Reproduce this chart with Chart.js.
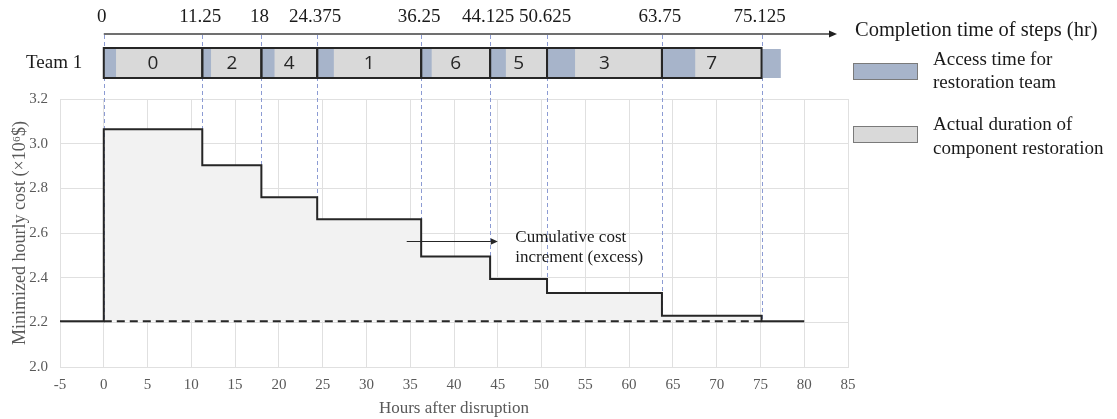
<!DOCTYPE html>
<html>
<head>
<meta charset="utf-8">
<script src="https://cdn.jsdelivr.net/npm/chart.js@4.4.0/dist/chart.umd.min.js"></script>
<style>
  html, body { margin: 0; padding: 0; background: #ffffff; }
  #wrap { width: 1117px; height: 419px; }
</style>
</head>
<body>
<div id="wrap"><canvas id="c" width="1117" height="419"></canvas></div>
<script>
// ---- data ----
const stepTimes = [0, 11.25, 18, 24.375, 36.25, 44.125, 50.625, 63.75, 75.125];
const stepCosts = [3.065, 2.903, 2.760, 2.662, 2.495, 2.394, 2.331, 2.229, 2.205];
const baselineCost = 2.205;
const startHour = -5;
const endHour = 80;
const stepLabels = ['0', '11.25', '18', '24.375', '36.25', '44.125', '50.625', '63.75', '75.125'];
const components = ['0', '2', '4', '1', '6', '5', '3', '7'];
const accessTimes = [1.4, 1.0, 1.5, 1.9, 1.2, 1.8, 3.2, 3.8];
const trailingAccess = 2.2;
const xTicks = { min: -5, max: 85, step: 5 };
const yTicks = { min: 2.0, max: 3.2, step: 0.2 };

// ---- build series from data ----
const stepPoints = [{ x: startHour, y: baselineCost }, { x: stepTimes[0], y: baselineCost }];
for (let i = 0; i < stepTimes.length; i++) {
  const next = i + 1 < stepTimes.length ? stepTimes[i + 1] : endHour;
  stepPoints.push({ x: stepTimes[i], y: stepCosts[i] });
  stepPoints.push({ x: next, y: stepCosts[i] });
}
const basePoints = [{ x: stepTimes[0], y: baselineCost }, { x: stepTimes[stepTimes.length - 1], y: baselineCost }];

const SERIF = '"Liberation Serif", "Times New Roman", serif';
const SANS = '"Open Sans", "Liberation Sans", sans-serif';
const ACCESS_COLOR = '#a7b4ca';
const WORK_COLOR = '#d9d9d9';
const INK = '#262626';

function arrow(ctx, x1, y, x2, head) {
  ctx.beginPath();
  ctx.moveTo(x1, y);
  ctx.lineTo(x2 - head, y);
  ctx.stroke();
  ctx.beginPath();
  ctx.moveTo(x2, y);
  ctx.lineTo(x2 - head, y - head * 0.45);
  ctx.lineTo(x2 - head, y + head * 0.45);
  ctx.closePath();
  ctx.fill();
}

const overlay = {
  id: 'overlay',
  beforeDatasetsDraw(chart) {
    const { ctx, scales: { x, y } } = chart;
    ctx.save();
    ctx.strokeStyle = '#8c9bd3';
    ctx.lineWidth = 1;
    ctx.setLineDash([4, 3]);
    for (let i = 0; i < stepTimes.length; i++) {
      const prev = i === 0 ? baselineCost : stepCosts[i - 1];
      const low = Math.min(prev, stepCosts[i]);
      const px = Math.round(x.getPixelForValue(stepTimes[i])) + 0.5;
      ctx.beginPath();
      ctx.moveTo(px, 35);
      ctx.lineTo(px, y.getPixelForValue(low));
      ctx.stroke();
    }
    ctx.restore();
  },
  afterDraw(chart) {
    const { ctx, scales: { x, y }, chartArea } = chart;
    ctx.save();
    // timeline axis with arrow
    ctx.strokeStyle = '#404040';
    ctx.fillStyle = '#202020';
    ctx.lineWidth = 1.3;
    arrow(ctx, x.getPixelForValue(stepTimes[0]), 34, chartArea.right - 11, 8);

    // step completion labels
    ctx.fillStyle = '#1a1a1a';
    ctx.font = '19px ' + SERIF;
    ctx.textAlign = 'center';
    ctx.textBaseline = 'middle';
    stepLabels.forEach((t, i) => {
      ctx.fillText(t, x.getPixelForValue(stepTimes[i]) - 2, 17);
    });

    // team bar
    const top = 48, bot = 78;
    const last = stepTimes[stepTimes.length - 1];
    ctx.fillStyle = ACCESS_COLOR;
    ctx.fillRect(x.getPixelForValue(last), top + 1, x.getPixelForValue(last + trailingAccess) - x.getPixelForValue(last), bot - top - 1);
    for (let i = 0; i < components.length; i++) {
      const x0 = x.getPixelForValue(stepTimes[i]);
      const x1 = x.getPixelForValue(stepTimes[i + 1]);
      const xa = x.getPixelForValue(stepTimes[i] + accessTimes[i]);
      ctx.fillStyle = WORK_COLOR;
      ctx.fillRect(x0, top, x1 - x0, bot - top);
      ctx.fillStyle = ACCESS_COLOR;
      ctx.fillRect(x0, top, xa - x0, bot - top);
    }
    ctx.strokeStyle = INK;
    ctx.lineWidth = 2;
    for (let i = 0; i < components.length; i++) {
      const x0 = x.getPixelForValue(stepTimes[i]);
      const x1 = x.getPixelForValue(stepTimes[i + 1]);
      ctx.strokeRect(x0, top, x1 - x0, bot - top);
    }
    ctx.fillStyle = INK;
    ctx.font = '19px ' + SANS;
    for (let i = 0; i < components.length; i++) {
      const x0 = x.getPixelForValue(stepTimes[i]);
      const x1 = x.getPixelForValue(stepTimes[i + 1]);
      ctx.fillText(components[i], (x0 + x1) / 2, (top + bot) / 2 + 1);
    }
    // Team label
    ctx.fillStyle = '#1a1a1a';
    ctx.font = '19px ' + SERIF;
    ctx.textAlign = 'left';
    ctx.fillText('Team 1', 26, 63);

    // legend
    ctx.font = '20.5px ' + SERIF;
    ctx.fillText('Completion time of steps (hr)', 855, 31);
    ctx.font = '19px ' + SERIF;
    ctx.lineWidth = 1;
    ctx.strokeStyle = '#7a7a7a';
    ctx.fillStyle = ACCESS_COLOR;
    ctx.fillRect(853, 63, 64, 16);
    ctx.strokeRect(853.5, 63.5, 64, 16);
    ctx.fillStyle = WORK_COLOR;
    ctx.fillRect(853, 126, 64, 16);
    ctx.strokeRect(853.5, 126.5, 64, 16);
    ctx.fillStyle = '#1a1a1a';
    ctx.fillText('Access time for', 933, 60);
    ctx.fillText('restoration team', 933, 83);
    ctx.fillText('Actual duration of', 933, 125);
    ctx.fillText('component restoration', 933, 149);

    // annotation
    ctx.strokeStyle = INK;
    ctx.fillStyle = INK;
    ctx.lineWidth = 1;
    arrow(ctx, x.getPixelForValue(34.6), Math.round(y.getPixelForValue(2.562)) + 0.5, x.getPixelForValue(45.0), 7);
    ctx.fillStyle = '#1a1a1a';
    ctx.font = '17px ' + SERIF;
    ctx.fillText('Cumulative cost', x.getPixelForValue(47), y.getPixelForValue(2.578));
    ctx.fillText('increment (excess)', x.getPixelForValue(47), y.getPixelForValue(2.488));
    ctx.restore();
  }
};

new Chart(document.getElementById('c'), {
  type: 'line',
  data: {
    datasets: [
      {
        data: stepPoints,
        borderColor: INK,
        borderWidth: 2,
        pointRadius: 0,
        tension: 0,
        fill: { value: baselineCost },
        backgroundColor: '#f2f2f2'
      },
      {
        data: basePoints,
        borderColor: INK,
        borderWidth: 2,
        borderDash: [8, 5],
        pointRadius: 0,
        fill: false
      }
    ]
  },
  options: {
    responsive: false,
    animation: false,
    layout: { padding: { left: 0, top: 99, right: 269, bottom: 0 } },
    plugins: {
      legend: { display: false },
      tooltip: { enabled: false },
      filler: { drawTime: 'beforeDatasetsDraw' }
    },
    scales: {
      x: {
        type: 'linear',
        min: xTicks.min,
        max: xTicks.max,
        afterFit: s => { s.height = 52; },
        ticks: {
          stepSize: xTicks.step,
          color: '#595959',
          font: { family: SERIF, size: 15 },
          padding: 9,
          maxRotation: 0
        },
        grid: { color: '#e0e0e0', lineWidth: 1, drawTicks: false },
        border: { color: '#e0e0e0' },
        title: {
          display: true,
          text: 'Hours after disruption',
          color: '#595959',
          font: { family: SERIF, size: 17 },
          padding: { top: 0, bottom: 0 }
        }
      },
      y: {
        type: 'linear',
        min: yTicks.min,
        max: yTicks.max,
        afterFit: s => { s.width = 60; },
        ticks: {
          stepSize: yTicks.step,
          color: '#595959',
          font: { family: SERIF, size: 15 },
          padding: 12,
          callback: v => Number(v).toFixed(1)
        },
        grid: { color: '#e0e0e0', lineWidth: 1, drawTicks: false },
        border: { color: '#e0e0e0' },
        title: {
          display: true,
          text: 'Minimized hourly cost (×10⁶$)',
          color: '#595959',
          font: { family: SERIF, size: 18 },
          padding: { top: 9, bottom: 0 }
        }
      }
    }
  },
  plugins: [overlay]
});
</script>
</body>
</html>
